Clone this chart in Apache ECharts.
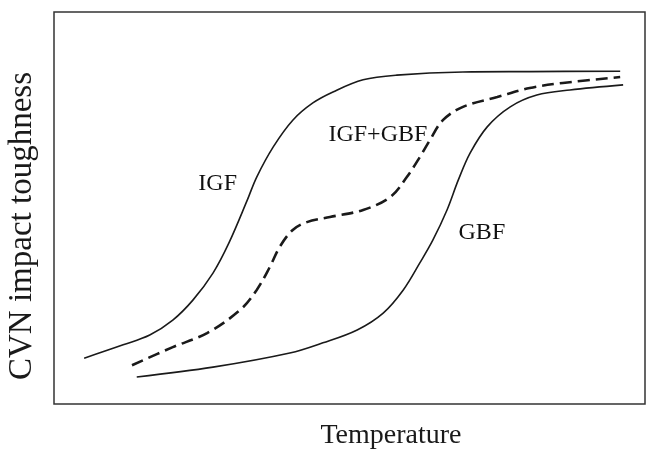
<!DOCTYPE html>
<html>
<head>
<meta charset="utf-8">
<script src="https://cdn.jsdelivr.net/npm/echarts@6/dist/echarts.min.js"></script>
<style>html,body{margin:0;padding:0;background:#fff}#c{width:647px;height:449px}</style>
</head>
<body>
<div id="c"></div>
<script>
// Schematic data (arbitrary units, 0-100)
const igf = [[5.1,11.7],[11.7,15.1],[16.2,17.6],[20.1,21.4],[23.5,26.5],[26.9,33.4],[29.6,41.1],[32.7,52.0],[34.3,57.9],[37.1,65.6],[40.4,72.4],[43.8,76.8],[47.2,79.6],[52.3,82.7],[58.0,83.9],[69.2,84.7],[80.5,84.8],[95.8,84.9]];
const igfGbf = [[13.2,9.9],[20.1,14.5],[25.9,18.1],[31.5,24.0],[34.3,29.1],[36.5,34.9],[38.2,40.1],[40.4,44.4],[42.8,46.4],[46.7,47.7],[52.3,49.5],[56.9,52.8],[59.7,57.9],[61.9,63.0],[63.6,67.3],[65.8,72.4],[69.2,75.8],[75.0,78.3],[80.5,80.6],[86.1,81.9],[95.8,83.4]];
const gbf = [[14.0,6.9],[26.9,9.4],[39.9,13.0],[45.5,15.6],[51.3,18.9],[55.7,23.2],[59.1,29.1],[61.9,36.0],[64.1,41.8],[66.5,49.5],[68.4,57.1],[70.4,64.0],[73.3,70.7],[77.2,75.8],[81.7,78.8],[87.3,80.1],[96.3,81.4]];
const curveLabels = [{name:'IGF', value:[27.7,56.1]},{name:'IGF+GBF', value:[54.8,68.6]},{name:'GBF', value:[72.4,43.6]}];
const xTitle = 'Temperature';
const yTitle = 'CVN impact toughness';

const font = 'Liberation Serif, Times New Roman, serif';
const chart = echarts.init(document.getElementById('c'));
chart.setOption({
  animation:false,
  backgroundColor:'#fff',
  grid:{left:54,top:12,width:591,height:392,show:true,borderColor:'#333',borderWidth:1.5,backgroundColor:'transparent'},
  xAxis:{type:'value',min:0,max:100,axisLine:{show:false},axisTick:{show:false},axisLabel:{show:false},splitLine:{show:false}},
  yAxis:{type:'value',min:0,max:100,axisLine:{show:false},axisTick:{show:false},axisLabel:{show:false},splitLine:{show:false}},
  graphic:[
    {type:'text',style:{text:xTitle,font:'28px '+font,fill:'#1a1a1a',textAlign:'center',textVerticalAlign:'middle'},x:391,y:436,silent:true},
    {type:'text',style:{text:yTitle,font:'33px '+font,fill:'#1a1a1a',textAlign:'center',textVerticalAlign:'middle'},x:22,y:226,rotation:Math.PI/2,silent:true}
  ],
  series:[
    {type:'line',data:igf,smooth:0.35,symbol:'none',lineStyle:{color:'#1a1a1a',width:1.6}},
    {type:'line',data:igfGbf,smooth:0.35,symbol:'none',lineStyle:{color:'#1a1a1a',width:2.6,type:[12,6]}},
    {type:'line',data:gbf,smooth:0.35,symbol:'none',lineStyle:{color:'#1a1a1a',width:1.6}},
    {type:'scatter',data:curveLabels,symbolSize:1,itemStyle:{opacity:0},silent:true,
      label:{show:true,position:'inside',formatter:'{b}',fontFamily:font,fontSize:24,color:'#111',opacity:1}}
  ]
});
</script>
</body>
</html>
